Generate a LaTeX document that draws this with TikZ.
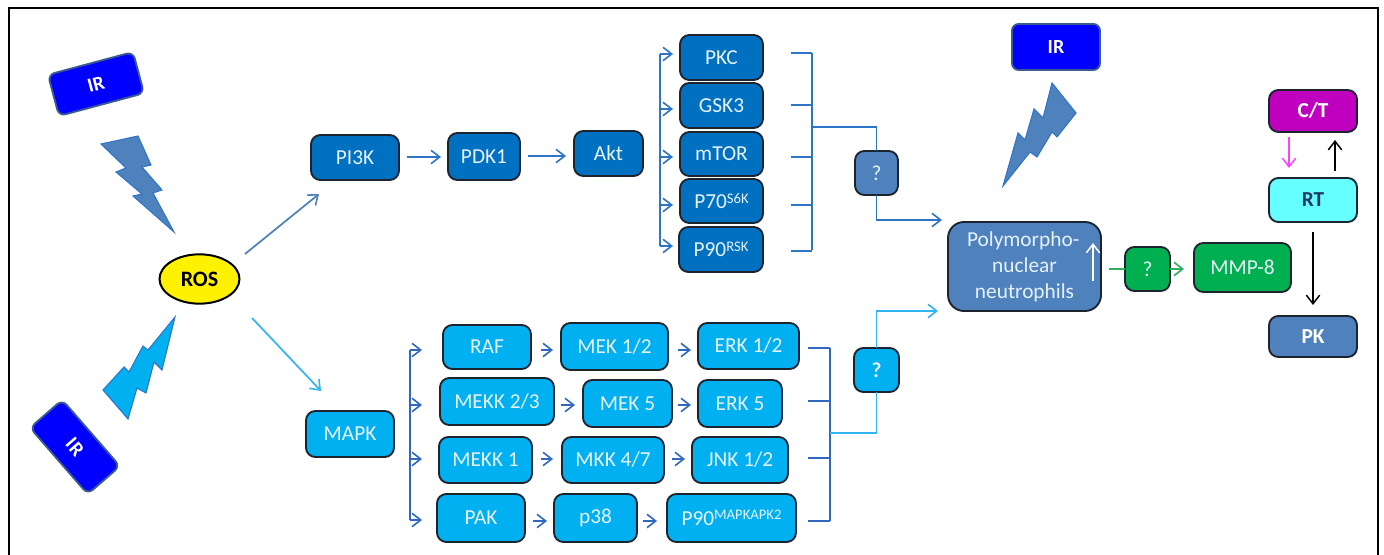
\documentclass[tikz,border=0pt]{standalone}
\usepackage{fontspec}
\setmainfont{Carlito}
\usetikzlibrary{arrows.meta,shapes.geometric}
\definecolor{dkblue}{HTML}{0070C0}
\definecolor{steel}{HTML}{4F81BD}
\definecolor{skyb}{HTML}{00B0F0}
\definecolor{irblue}{HTML}{0000FF}
\definecolor{mmpg}{HTML}{00B050}
\definecolor{ctp}{HTML}{BF00BF}
\definecolor{rtc}{HTML}{66FFFF}
\definecolor{linea}{HTML}{2E75C8}
\definecolor{lineb}{HTML}{3068C0}
\definecolor{linec}{HTML}{33B5F2}
\definecolor{lined}{HTML}{30B060}
\definecolor{edge}{HTML}{1C2430}
\definecolor{irline}{HTML}{3A5A90}
\definecolor{txt}{HTML}{E6F2FA}
\definecolor{navy}{HTML}{1F3864}
\definecolor{pinkl}{HTML}{FF40FF}
\tikzset{
  boxbase/.style={draw=edge,line width=1.4pt,rounded corners=7pt,inner sep=0pt,outer sep=0pt,align=center,text=txt,font=\fontsize{16}{19.5}\selectfont},
  dkbox/.style={boxbase,fill=dkblue},
  skbox/.style={boxbase,fill=skyb},
  stbox/.style={boxbase,fill=steel},
  gnbox/.style={boxbase,fill=mmpg},
  irbox/.style={boxbase,draw=irline,fill=irblue,text=white,rounded corners=5pt,font=\fontsize{15}{17}\selectfont\bfseries},
  ln/.style={line width=1.3pt},
  tip/.style={ln,-{Straight Barb[length=6.5pt,width=10pt,line width=1.2pt]}},
  fine/.style={line width=1.1pt,-{Straight Barb[length=6.5pt,width=10pt,line width=1.1pt]}},
  bolt/.style={line width=0.8pt,line join=miter},
}
% style, name, x1,y1,x2,y2, text
\newcommand{\bx}[7]{\node[#1,minimum width={(#5-#3)*0.75pt},minimum height={(#6-#4)*0.75pt}] (#2) at ({(#3+#5)/2},{(#4+#6)/2}) {#7};}
% style, from, to, y, gap at start, gap at end
\newcommand{\hl}[6]{\draw[#1,shorten <={#5*0.75pt},shorten >={#6*0.75pt}] (#2 |- 0,#4) -- (#3 |- 0,#4);}
\newcommand{\sups}[1]{\raisebox{0.55ex}{\fontsize{11}{11}\selectfont #1}}
\begin{document}
\begin{tikzpicture}[x=0.75pt,y=-0.75pt]
\useasboundingbox (0,0) rectangle (1384,555);
\fill[white] (0,0) rectangle (1384,555);
\draw[black,line width=1.5pt] (9,555) -- (9,8) -- (1378,8) -- (1378,555);

% bolts
\draw[bolt,draw=linea,fill=steel] (101,144)--(138,136)--(151,165)--(142,167)--(162,190)--(153,193)--(174,232)--(133,196)--(142,194)--(116,172)--(126,168)--cycle;
\draw[bolt,draw=linea,fill=skyb] (175,317)--(148,350)--(143,346)--(129,372)--(124,367)--(103,390)--(128,419)--(137,388)--(146,393)--(154,362)--(162,370)--cycle;
\draw[bolt,draw=linea,fill=steel] (1003,186)--(1018,133)--(1025,140)--(1034,109)--(1043,118)--(1052,83)--(1076,113)--(1057,137)--(1052,132)--(1037,157)--(1030,152)--cycle;

% IR boxes
\node[irbox,rotate=15,minimum width=66pt,minimum height=32pt] (ir1) at (96,84) {IR};
\node[irbox,rotate=-49,minimum width=66pt,minimum height=32pt] (ir2) at (75,447) {IR};
\bx{irbox}{ir3}{1012}{24}{1100}{70}{IR}

% ROS
\node[ellipse,draw=black,line width=1.5pt,fill=yellow,inner sep=0pt,minimum width=60pt,minimum height=37pt,font=\fontsize{16.5}{19}\selectfont\bfseries,text=black] (ros) at (199.5,279) {ROS};

% top pathway
\bx{dkbox}{pi3k}{311}{135}{399}{180}{PI3K}
\bx{dkbox}{pdk}{448}{133}{520}{180}{PDK1}
\bx{dkbox}{akt}{574}{131}{643}{176}{Akt}
\bx{dkbox}{pkc}{680}{35}{763}{80}{PKC}
\bx{dkbox}{gsk}{680}{83}{763}{128}{GSK3}
\bx{dkbox}{mtor}{680}{132}{763}{176}{mTOR}
\bx{dkbox}{pse}{680}{179}{763}{223}{P70\sups{S6K}}
\bx{dkbox}{prsk}{679}{227}{763}{272}{P90\sups{RSK}}
\bx{stbox}{qa}{855}{151}{898}{195}{?}

% bottom pathway
\bx{skbox}{mapk}{306}{411}{394}{457}{MAPK}
\bx{skbox}{raf}{443}{325}{531}{369}{RAF}
\bx{skbox}{mek}{561}{323}{668}{370}{MEK 1/2}
\bx{skbox}{erk}{698}{323}{799}{369}{ERK 1/2}
\bx{skbox}{mekkb}{440}{378}{554}{425}{MEKK 2/3}
\bx{skbox}{mekf}{583}{380}{672}{427}{MEK 5}
\bx{skbox}{erkf}{698}{380}{782}{427}{ERK 5}
\bx{skbox}{mekka}{439}{437}{532}{483}{MEKK 1}
\bx{skbox}{mkk}{562}{437}{664}{483}{MKK 4/7}
\bx{skbox}{jnk}{692}{437}{788}{483}{JNK 1/2}
\bx{skbox}{pak}{437}{494}{525}{542}{PAK}
\bx{skbox}{pte}{554}{494}{637}{542}{p38}
\bx{skbox}{pmap}{667}{494}{796}{542}{P90\sups{MAPKAPK2}}
\bx{skbox}{qb}{854}{348}{899}{392}{\bfseries ?}

% right side
\bx{stbox,rounded corners=12pt}{pmn}{948}{222}{1101}{311}{\hspace*{-2pt}Polymorpho-\\nuclear\\neutrophils}
\bx{gnbox}{qc}{1125}{247}{1170}{291}{?}
\bx{gnbox}{mmp}{1194}{243}{1291}{292}{MMP-8}
\bx{boxbase,fill=ctp,text=white,font=\fontsize{16}{19}\selectfont\bfseries}{ct}{1269}{90}{1357}{132}{C/T}
\bx{boxbase,fill=rtc,text=navy,font=\fontsize{16}{19}\selectfont\bfseries}{rt}{1269}{178}{1357}{222}{RT}
\bx{boxbase,fill=steel,text=white,font=\fontsize{16}{19}\selectfont\bfseries}{pk}{1269}{316}{1357}{357}{PK}

% junction coordinates
\coordinate (busa) at (660,54);
\coordinate (busaend) at (660,246);
\coordinate (busb) at (812,53);
\coordinate (busbend) at (812,250);
\coordinate (busbmid) at (812,127);
\coordinate (inpmna) at (942,220);
\coordinate (busc) at (410,350);
\coordinate (buscend) at (410,520);
\coordinate (busd) at (830,348);
\coordinate (busdend) at (830,521);
\coordinate (busdmid) at (830,433);
\coordinate (inpmnb) at (938,311);
\coordinate (roshi) at (319,194);
\coordinate (roslo) at (321,391);
\coordinate (rosa) at (245,254);
\coordinate (rosb) at (252,318);

% ROS fan-out
\draw[tip,draw=steel] (rosa) -- (roshi);
\draw[tip,draw=linec] (rosb) -- (roslo);

% top arrows
\hl{tip,draw=linea}{pi3k.east}{pdk.west}{157}{8}{7}
\hl{tip,draw=linea}{pdk.east}{akt.west}{156}{8}{8}
\draw[ln,draw=linea] (busa) -- (busaend);
\hl{tip,draw=linea}{busa}{pkc.west}{54}{0}{7}
\hl{tip,draw=linea}{busa}{gsk.west}{109}{0}{7}
\hl{tip,draw=linea}{busa}{mtor.west}{157}{0}{7}
\hl{tip,draw=linea}{busa}{pse.west}{205}{0}{7}
\hl{tip,draw=linea}{busa}{prsk.west}{246}{0}{6}
\draw[ln,draw=linea] (busb) -- (busbend);
\hl{ln,draw=linea}{pkc.east}{busb}{53}{28}{0}
\hl{ln,draw=linea}{gsk.east}{busb}{105}{28}{0}
\hl{ln,draw=linea}{mtor.east}{busb}{157}{28}{0}
\hl{ln,draw=linea}{pse.east}{busb}{205}{28}{0}
\hl{ln,draw=linea}{prsk.east}{busb}{251}{28}{0}
\draw[ln,draw=linea] (busbmid) -| (qa.north);
\draw[tip,draw=linea] (qa.south) |- (inpmna);

% bottom arrows
\draw[ln,draw=lineb] (busc) -- (buscend);
\hl{tip,draw=lineb}{busc}{raf.west}{350}{0}{21}
\hl{tip,draw=lineb}{busc}{mekkb.west}{405}{0}{18}
\hl{tip,draw=lineb}{busc}{mekka.west}{459}{0}{17}
\hl{tip,draw=lineb}{busc}{pak.west}{520}{0}{15}
\hl{tip,draw=lineb}{raf.east}{mek.west}{350}{10}{8}
\hl{tip,draw=lineb}{mek.east}{erk.west}{350}{10}{7}
\hl{tip,draw=lineb}{mekkb.east}{mekf.west}{405}{7}{8}
\hl{tip,draw=lineb}{mekf.east}{erkf.west}{405}{6}{7}
\hl{tip,draw=lineb}{mekka.east}{mkk.west}{459}{9}{9}
\hl{tip,draw=lineb}{mkk.east}{jnk.west}{459}{8}{7}
\hl{tip,draw=lineb}{pak.east}{pte.west}{521}{8}{7}
\hl{tip,draw=lineb}{pte.east}{pmap.west}{521}{6}{10}
\draw[ln,draw=lineb] (busd) -- (busdend);
\hl{ln,draw=lineb}{erk.east}{busd}{348}{9}{0}
\hl{ln,draw=lineb}{erkf.east}{busd}{401}{26}{0}
\hl{ln,draw=lineb}{jnk.east}{busd}{458}{20}{0}
\hl{ln,draw=lineb}{pmap.east}{busd}{521}{12}{0}
\draw[ln,draw=linec] (busdmid) -| (qb.south);
\draw[tip,draw=linec] (qb.north) |- (inpmnb);

% right arrows
\coordinate (upa) at (1093,281);
\coordinate (upb) at (1093,243);
\draw[fine,draw=white] (upa) -- (upb);
\draw[ln,draw=lined,shorten <={8*0.75pt}] (pmn.east |- qc.west) -- (qc.west);
\draw[tip,draw=lined,shorten >={10*0.75pt}] (qc.east) -- (qc.east -| mmp.west);
\draw[fine,draw=pinkl,shorten <={5*0.75pt},shorten >={10*0.75pt}] (ct.south -| 1289,0) -- (rt.north -| 1289,0);
\draw[fine,draw=black,shorten <={7*0.75pt},shorten >={8*0.75pt}] (rt.north -| 1335,0) -- (ct.south -| 1335,0);
\draw[fine,draw=black,shorten <={10*0.75pt},shorten >={11*0.75pt}] (rt.south -| 1313,0) -- (pk.north -| 1313,0);
\end{tikzpicture}
\end{document}
